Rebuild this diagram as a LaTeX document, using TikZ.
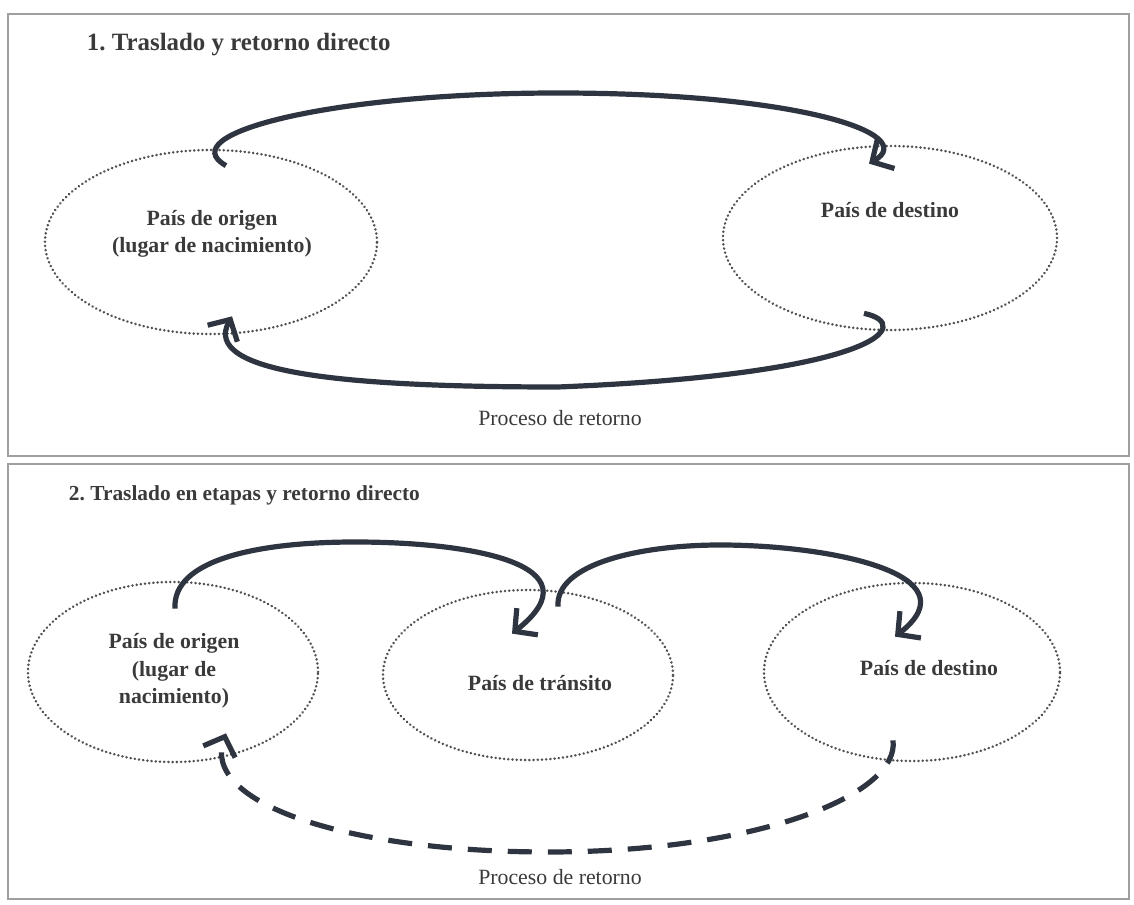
\documentclass[tikz,border=0pt]{standalone}
\usepackage{fontspec}
\setmainfont{Liberation Serif}
\usetikzlibrary{shapes.geometric,arrows.meta}
\frenchspacing
\definecolor{trazo}{HTML}{2E3540}
\definecolor{punteado}{HTML}{505050}
\definecolor{texto}{HTML}{3A3A3A}
\tikzset{
  pais/.style={draw=punteado, ellipse, line width=1.9pt, dash pattern=on 0.1pt off 2.9pt, line cap=round, inner sep=0pt},
  rotulo/.style={text=texto, font=\fontsize{15.5}{19.5}\selectfont\bfseries, align=center},
  retorno/.style={text=texto, font=\fontsize{15.5}{19}\selectfont},
  titulo/.style={anchor=west, text=texto, font=\fontsize{17.7}{21}\selectfont\bfseries},
  flecha/.style={draw=trazo, line width=3.7pt, -{Straight Barb[length=4mm,width=8.5mm]}},
  marco/.style={draw=gray!75, line width=0.8pt}
}

\begin{document}
\begin{tikzpicture}[x=0.025cm,y=0.025cm]
\useasboundingbox (0,0) rectangle (1134,904);
\draw[marco] (8,448) rectangle (1129,890);
\draw[marco] (8,5) rectangle (1129,440);

% 1. directo
\node[titulo] (tit1) at (82,859) {1. Traslado y retorno directo};
\node[pais, minimum width=8.3cm, minimum height=4.6cm] (orig1) at (211,662) {};
\node[pais, minimum width=8.35cm, minimum height=4.6cm] (dest1) at (890,666) {};
\node[rotulo] (torig1) at (212,670) {País de origen\\(lugar de nacimiento)};
\node[rotulo] (tdest1) at (890,694) {País de destino};
\node[retorno] (ret1) at (560,486) {Proceso de retorno};

\draw[flecha] ([shift={(15,-17)}]orig1.north) .. controls (170,770) and (330,811) .. (558,811)
  .. controls (800,811) and (920,770) .. ([shift={(-21,-19)}]dest1.north);
\draw[flecha] ([shift={(-26,18)}]dest1.south) .. controls (915,580) and (880,530) .. (558,517)
  .. controls (350,517) and (200,530) .. ([shift={(21,19)}]orig1.south);

% 2. en etapas
\node[titulo, font=\fontsize{15.2}{18}\selectfont\bfseries] (tit2) at (64,409) {2. Traslado en etapas y retorno directo};
\node[pais, minimum width=7.25cm, minimum height=4.5cm] (orig2) at (173,232) {};
\node[pais, minimum width=7.25cm, minimum height=4.25cm] (tran2) at (528,229) {};
\node[pais, minimum width=7.4cm, minimum height=4.45cm] (dest2) at (912,232) {};
\node[rotulo] (torig2) at (174,233) {País de origen\\(lugar de\\nacimiento)};
\node[rotulo] (ttran2) at (540,221) {País de tránsito};
\node[rotulo] (tdest2) at (929,236) {País de destino};
\node[retorno] (ret2) at (560,27) {Proceso de retorno};

\draw[flecha] ([shift={(2,-28)}]orig2.north) .. controls (172,345) and (260,362) .. (355,362)
  .. controls (470,362) and (600,340) .. ([shift={(-16,-45)}]tran2.north);
\draw[flecha] ([shift={(30,-18)}]tran2.north) .. controls (555,340) and (640,359) .. (720,359)
  .. controls (830,359) and (975,330) .. ([shift={(-17,-55)}]dest2.north);
\draw[flecha, dash pattern=on 0.6cm off 0.4cm] ([shift={(-19,22)}]dest2.south) .. controls (900,110) and (760,52) .. (548,52)
  .. controls (350,52) and (200,100) .. ([shift={(53,30)}]orig2.south);
\end{tikzpicture}
\end{document}
